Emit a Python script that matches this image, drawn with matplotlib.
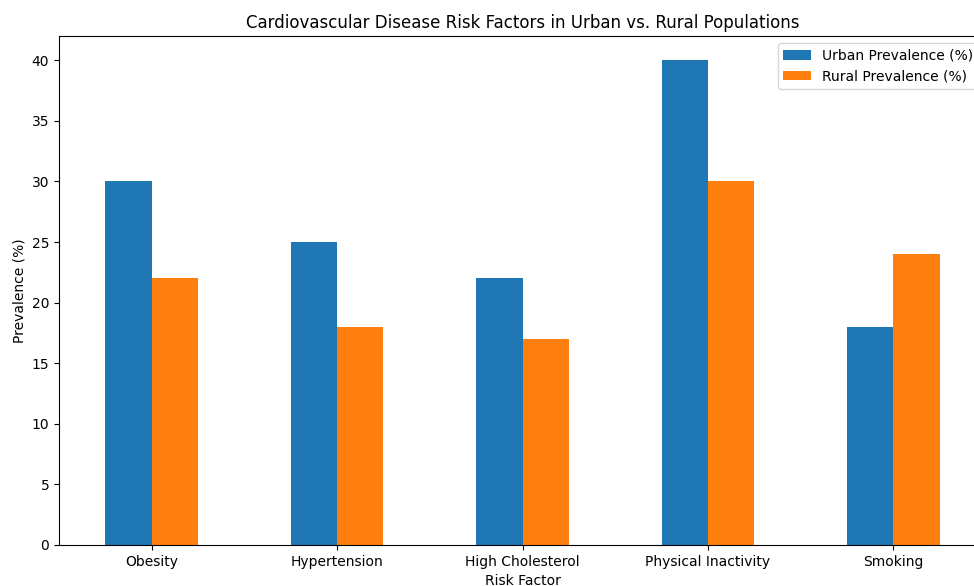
import numpy as np
import matplotlib
matplotlib.use("Agg")
import matplotlib.pyplot as plt

# ── Data ──────────────────────────────────────────────────────────────────────

risk_factors = ["Obesity", "Hypertension", "High Cholesterol",
                "Physical Inactivity", "Smoking"]
urban = [30, 25, 22, 40, 18]
rural = [22, 18, 17, 30, 24]

# ── Figure (axes run slightly past the right edge, as in the reference) ──────

W, H = 974, 586
fig = plt.figure(figsize=(W / 100, H / 100), dpi=100)
ax = fig.add_axes([59 / W, 1 - 545 / H, (986 - 59) / W, (545 - 36) / H])

x = np.arange(len(risk_factors))
w = 0.25
ax.bar(x - w / 2, urban, w, color="#1f77b4", label="Urban Prevalence (%)")
ax.bar(x + w / 2, rural, w, color="#ff7f0e", label="Rural Prevalence (%)")

ax.set_xlim(-0.5, len(risk_factors) - 0.5)
ax.set_ylim(0, 42)
ax.set_xticks(x)
ax.set_xticklabels(risk_factors, rotation=0)
ax.set_xlabel("Risk Factor")
ax.set_ylabel("Prevalence (%)")
ax.set_title("Cardiovascular Disease Risk Factors in Urban vs. Rural Populations")
ax.legend(loc="upper right")

fig.savefig("out.png", dpi=100)
